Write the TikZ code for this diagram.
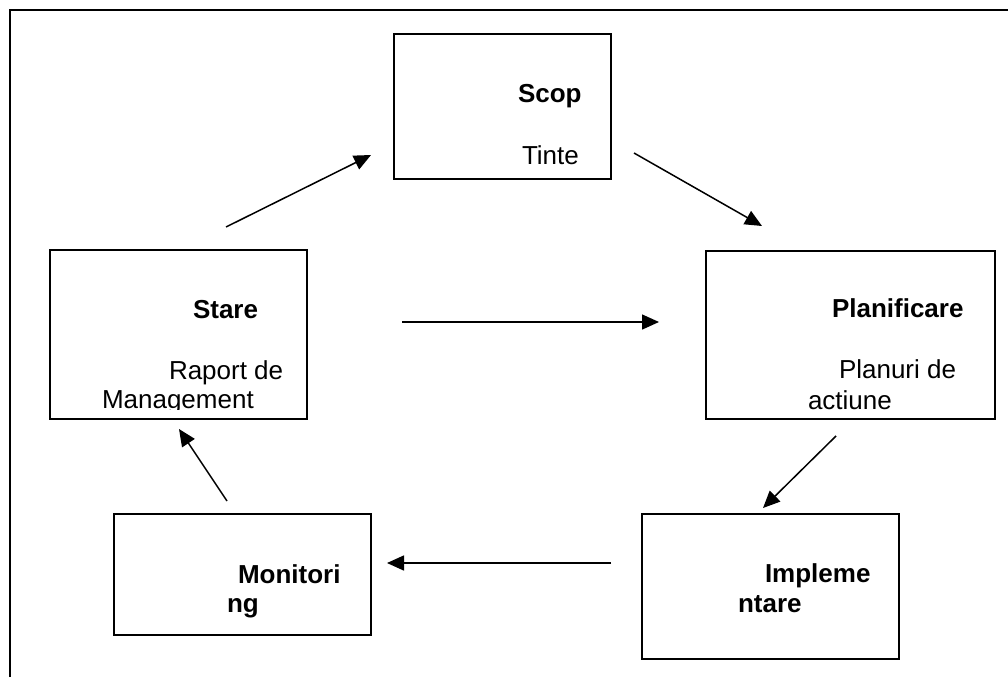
\documentclass[tikz,border=0pt]{standalone}
\usepackage{fontspec}
\setmainfont{Liberation Sans}
\usetikzlibrary{arrows.meta,positioning}

\begin{document}
\begin{tikzpicture}[x=1pt,y=-1pt,
    every node/.style={inner sep=0pt, outer sep=0pt},
    box/.style={draw, line width=1.3pt},
    txt/.style={anchor=base west, font=\fontsize{26}{31}\selectfont},
    hd/.style={txt, font=\fontsize{26}{31}\selectfont\bfseries},
    flow/.style={line width=1.5pt, -{Triangle[length=17pt,width=15pt]}}]
  \useasboundingbox (0,0) rectangle (1008,677);
  % frame (only top and left edges show)
  \draw[line width=1.6pt] (10,677) -- (10,10) -- (1008,10);

  % boxes
  \node [box, minimum width=217pt, minimum height=145pt] (scop) at (502.5,106.5) {};
  \node [box, minimum width=257pt, minimum height=169pt] (stare) at (178.5,334.5) {};
  \node [box, minimum width=289pt, minimum height=168pt] (plan) at (850.5,335) {};
  \node [box, minimum width=257pt, minimum height=121pt] (monit) at (242.5,574.5) {};
  \node [box, minimum width=257pt, minimum height=145pt] (impl) at (770.5,586.5) {};

  % texts
  \node [hd] (scop-t) at (518,102) {Scop};
  \node [txt] (scop-s) at (522,164) {Tinte};
  \node [hd] (stare-t) at (193,318) {Stare};
  \node [txt] (stare-s) at (169,379) {Raport de};
  \node [hd] (plan-t) at (832,317) {Planificare};
  \node [txt] (plan-s) at (839,378) {Planuri de};
  \begin{scope}
    \clip (50,250) rectangle (995,409);
    \node [txt] (stare-s2) at (102,408) {Management};
    \node [txt] (plan-s2) at (808,409) {actiune};
  \end{scope}
  \node [hd] (monit-t) at (238,583) {Monitori};
  \node [hd] (monit-t2) at (227,612) {ng};
  \node [hd] (impl-t) at (765,582) {Impleme};
  \node [hd] (impl-t2) at (738,612) {ntare};

  % arrow ends
  \coordinate (stare-up) at (226,227);
  \coordinate (scop-in) at (371,155);
  \coordinate (scop-out) at (634,153);
  \coordinate (plan-in) at (762,226);
  \coordinate (stare-out) at (402,322);
  \coordinate (plan-left) at (659,322);
  \coordinate (plan-out) at (836,436);
  \coordinate (impl-in) at (763,508);
  \coordinate (impl-out) at (611,563);
  \coordinate (monit-in) at (387,563);
  \coordinate (monit-out) at (227,501);
  \coordinate (stare-in) at (179,429);

  \draw [flow] (stare-up) -- (scop-in);
  \draw [flow] (scop-out) -- (plan-in);
  \draw [flow] (stare-out) -- (plan-left);
  \draw [flow] (plan-out) -- (impl-in);
  \draw [flow] (impl-out) -- (monit-in);
  \draw [flow] (monit-out) -- (stare-in);
\end{tikzpicture}
\end{document}
